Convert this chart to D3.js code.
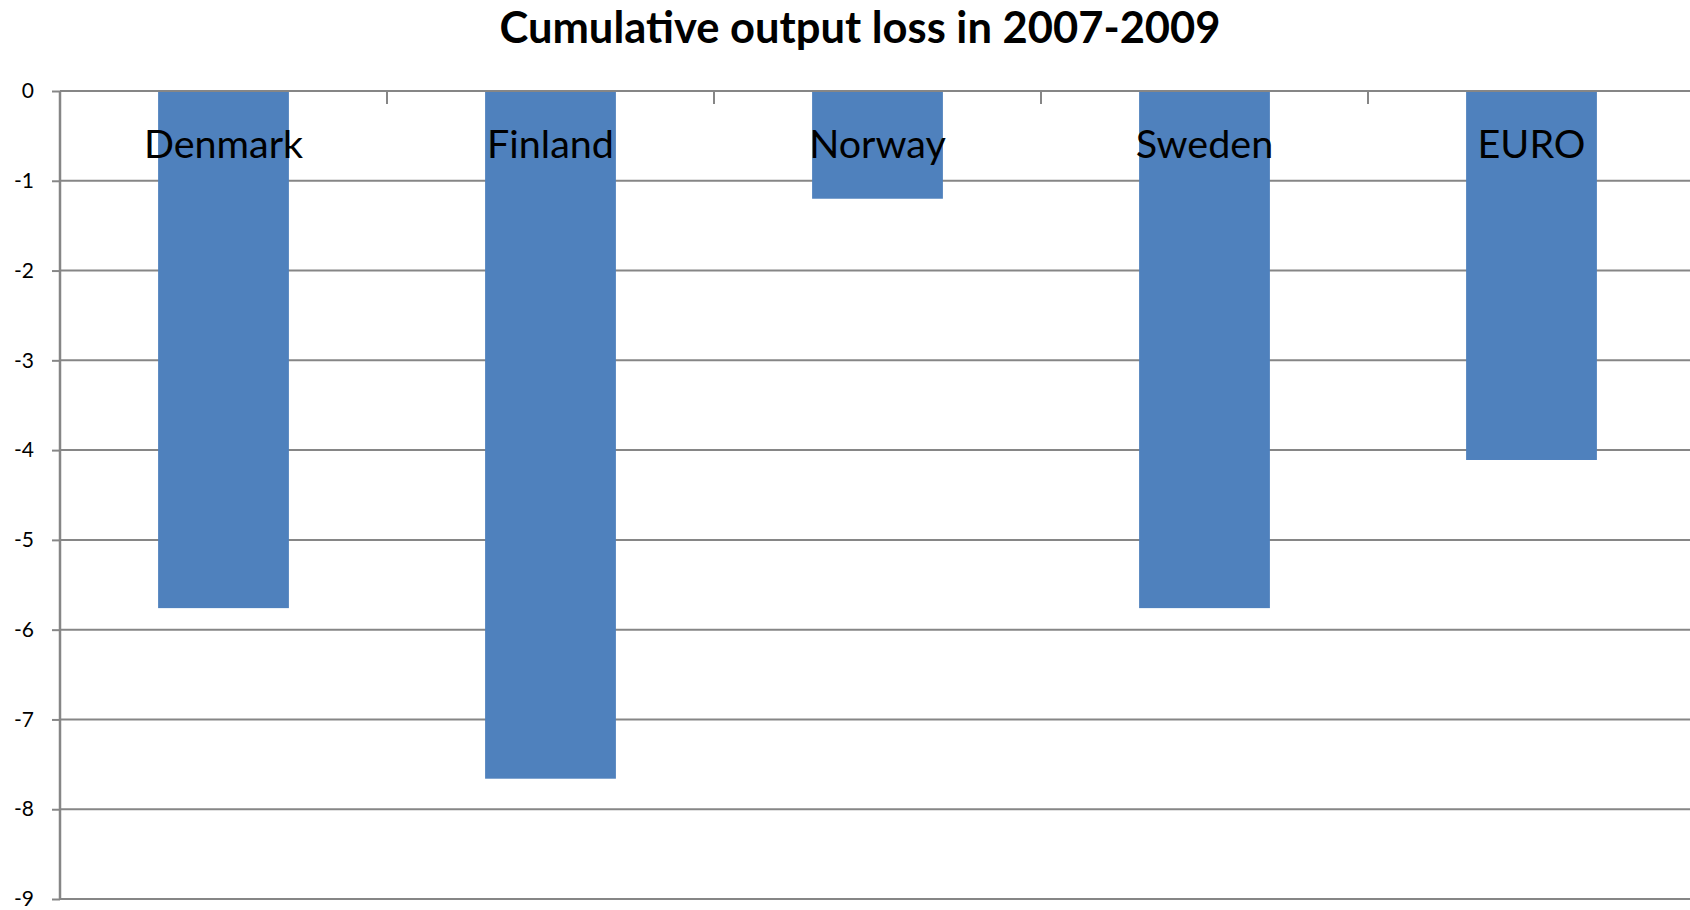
<!DOCTYPE html>
<html lang="en">
	<head>
		<meta charset="utf-8">
		<title>Cumulative output loss in 2007-2009</title>
		<script type="text/javascript" src="https://cdnjs.cloudflare.com/ajax/libs/d3/7.8.5/d3.min.js"></script>
		<style type="text/css">
			body { margin: 0; background: #fff; }
			svg { display: block; }
		</style>
	</head>
	<body>
		<script type="text/javascript">

			// Data
			var countries = ['Denmark', 'Finland', 'Norway', 'Sweden', 'EURO'];
			var outputLoss = [-5.76, -7.66, -1.2, -5.76, -4.11];
			var yTicks = [0, -1, -2, -3, -4, -5, -6, -7, -8, -9];

			// Width and height
			var w = 1690;
			var h = 910;
			var plotLeft = 60;
			var plotTop = 91;
			var plotBottom = 899;
			var step = 327;

			var xScale = d3.scaleBand()
							.domain(countries)
							.range([plotLeft, plotLeft + step * countries.length])
							.paddingInner(0.6)
							.paddingOuter(0.3)

			var yScale = d3.scaleLinear()
							.domain([0, -9])
							.range([plotTop, plotBottom])

			var svg = d3.select('body')
							.append('svg')
							.attr('width', w)
							.attr('height', h)

			// y axis (plain hyphen minus, like the original)
			var yAxis = g => g
							.attr('transform', `translate(${plotLeft},0)`)
							.call(d3.axisLeft(yScale)
								.tickValues(yTicks)
								.tickSize(8)
								.tickPadding(18)
								.tickFormat(d => String(d)))
							.call(g => g.selectAll('.tick line').attr('stroke', '#868686').attr('stroke-width', 2))
							.call(g => g.select('.domain').attr('stroke', '#868686').attr('stroke-width', 2.5).attr('d', `M0,${plotTop}V${plotBottom}`))
							.call(g => g.selectAll('.tick text')
								.attr('font-family', 'Lato, sans-serif')
								.attr('font-size', 21)
								.attr('fill', '#000'))

			// gridlines
			svg.append('g')
					.attr('stroke', '#868686')
					.attr('stroke-width', 2)
				.selectAll('line')
					.data(yTicks)
					.enter()
					.append('line')
					.attr('x1', plotLeft)
					.attr('x2', w)
					.attr('y1', d => yScale(d))
					.attr('y2', d => yScale(d))

			// category tick marks on the zero line
			svg.append('g')
					.attr('stroke', '#868686')
					.attr('stroke-width', 2)
				.selectAll('line')
					.data(countries.slice(1))
					.enter()
					.append('line')
					.attr('x1', d => xScale(d) - xScale.step() * 0.3)
					.attr('x2', d => xScale(d) - xScale.step() * 0.3)
					.attr('y1', yScale(0))
					.attr('y2', yScale(0) + 13)

			svg.append('g')
					.attr('fill', '#4F81BD')
				.selectAll('rect')
					.data(outputLoss)
					.enter()
					.append('rect')
					.attr('x', (d, i) => xScale(countries[i]))
					.attr('y', yScale(0) + 1)
					.attr('width', xScale.bandwidth())
					.attr('height', d => yScale(d) - yScale(0) - 1)

			svg.append('g')
				.call(yAxis)

			// category labels
			svg.append('g')
					.attr('text-anchor', 'middle')
					.attr('font-family', 'Lato, sans-serif')
					.attr('font-size', 39.5)
					.attr('fill', '#000')
				.selectAll('text')
					.data(countries)
					.enter()
					.append('text')
					.text(d => d)
					.attr('x', d => xScale(d) + xScale.bandwidth() / 2)
					.attr('y', 158)

			svg.append('text')
					.attr('x', 860)
					.attr('y', 43)
					.attr('text-anchor', 'middle')
					.attr('font-family', 'Lato, sans-serif')
					.attr('font-weight', 'bold')
					.attr('font-size', 43.5)
					.text('Cumulative output loss in 2007-2009')
		</script>
	</body>
</html>
